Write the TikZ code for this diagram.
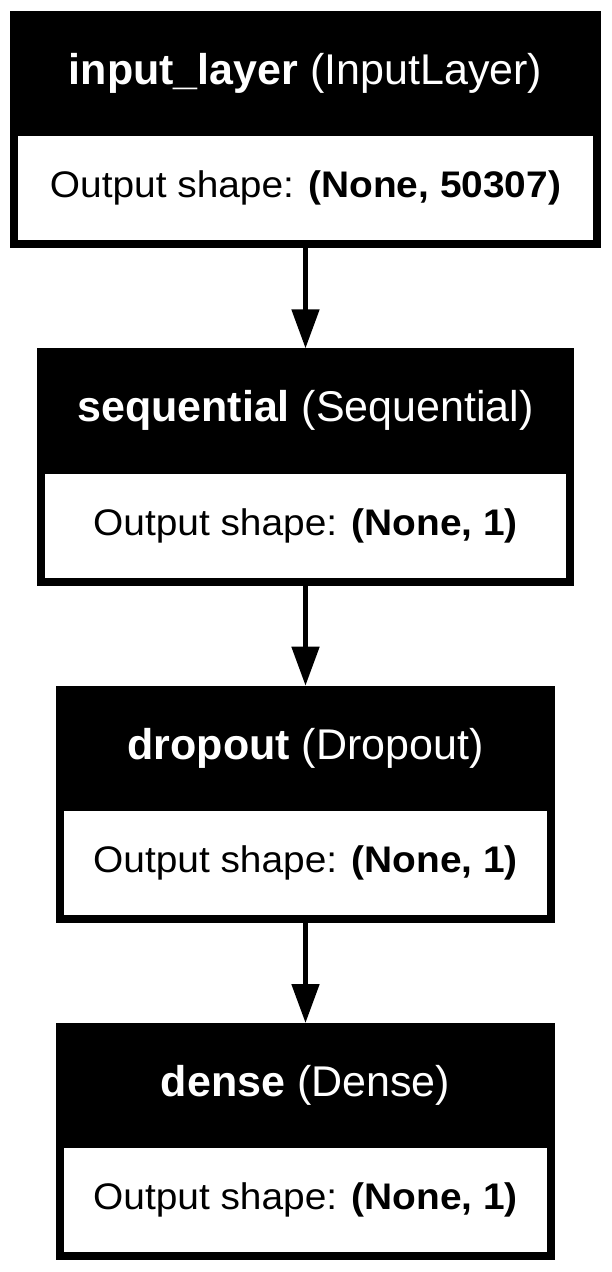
\documentclass[tikz,border=0pt]{standalone}
\usepackage{fontspec}
\setmainfont{Liberation Sans}
\newfontfamily\shapefont{Liberation Sans}[FakeStretch=1.05]
\usepackage{tikz}
\usetikzlibrary{arrows.meta}
\usetikzlibrary{positioning}

\tikzset{
  layerbox/.style={rectangle, fill=black, inner sep=0pt, outer sep=0pt, minimum height=178pt},
  headtext/.style={rectangle, inner sep=0pt, outer sep=0pt, text=white, minimum height=93.75pt, font=\fontsize{32.25}{36}\selectfont},
  shapebox/.style={rectangle, fill=white, inner sep=0pt, outer sep=0pt, minimum height=78pt, font=\shapefont\fontsize{27.75}{32}\selectfont},
  flow/.style={-{Triangle[length=29.25pt, width=20.25pt]}, line width=3.75pt},
}

\begin{document}
\begin{tikzpicture}
      \useasboundingbox (0,0) rectangle (458.25pt,-954pt);
      \node[layerbox, minimum width=443.25pt, anchor=north] (inputLayer) at (229.125pt,-8.25pt) {};
      \node[layerbox, minimum width=402.75pt, below=75pt of inputLayer] (sequential) {};
      \node[layerbox, minimum width=374.25pt, below=75pt of sequential] (dropout) {};
      \node[layerbox, minimum width=374.25pt, below=75pt of dropout] (dense) {};
      % layer names
      \node[headtext, below=0pt of inputLayer.north] (inputLayerName) {\textbf{input\_layer} (InputLayer)};
      \node[headtext, below=0pt of sequential.north] (sequentialName) {\textbf{sequential} (Sequential)};
      \node[headtext, below=0pt of dropout.north] (dropoutName) {\textbf{dropout} (Dropout)};
      \node[headtext, below=0pt of dense.north] (denseName) {\textbf{dense} (Dense)};
      % output shapes
      \node[shapebox, minimum width=431.25pt, above=6pt of inputLayer.south] (inputLayerShape) {Output shape: \textbf{(None, 50307)}};
      \node[shapebox, minimum width=390.75pt, above=6pt of sequential.south] (sequentialShape) {Output shape: \textbf{(None, 1)}};
      \node[shapebox, minimum width=362.25pt, above=6pt of dropout.south] (dropoutShape) {Output shape: \textbf{(None, 1)}};
      \node[shapebox, minimum width=362.25pt, above=6pt of dense.south] (denseShape) {Output shape: \textbf{(None, 1)}};
      \draw [flow] (inputLayer) -- (sequential) ;
      \draw [flow] (sequential) -- (dropout) ;
      \draw [flow] (dropout) -- (dense) ;
\end{tikzpicture}
\end{document}
